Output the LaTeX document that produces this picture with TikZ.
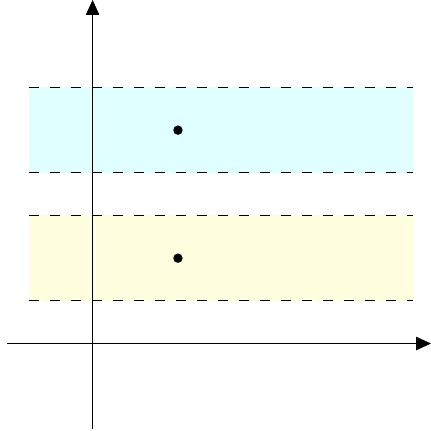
\documentclass[tikz,border=0pt]{standalone}
\usepackage{xcolor}
\usetikzlibrary{arrows.meta}
\definecolor{bandcyan}{RGB}{224,255,255}
\definecolor{bandyellow}{RGB}{255,255,224}

\begin{document}
\begin{tikzpicture}[every node/.style={font=\footnotesize},
  axis/.style={line width=0.5pt,-{Triangle[length=10pt,width=9pt]}},
  bandedge/.style={line width=0.5pt,dash pattern=on 7pt off 7pt}]
  \useasboundingbox (-2.17,-2.05) rectangle (7.93,8.05);
  % two horizontal bands
  \def\L{-1.5}  % left end of the bands
  \def\R{7.5}   % right end of the bands
  \fill[bandcyan]   (\L,4) rectangle (\R,6);
  \fill[bandyellow] (\L,1) rectangle (\R,3);
  \foreach \y in {1,3,4,6}
    \draw[bandedge] (\L,\y) -- (\R,\y);
  % axes
  \draw[axis] (-2,0) -- (7.93,0);
  \draw[axis] (0,-2) -- (0,8.05);
  % points
  \coordinate (p1) at (2,5);
  \coordinate (p2) at (2,2);
  \fill (p1) circle (0.11);
  \fill (p2) circle (0.11);
\end{tikzpicture}
\end{document}
